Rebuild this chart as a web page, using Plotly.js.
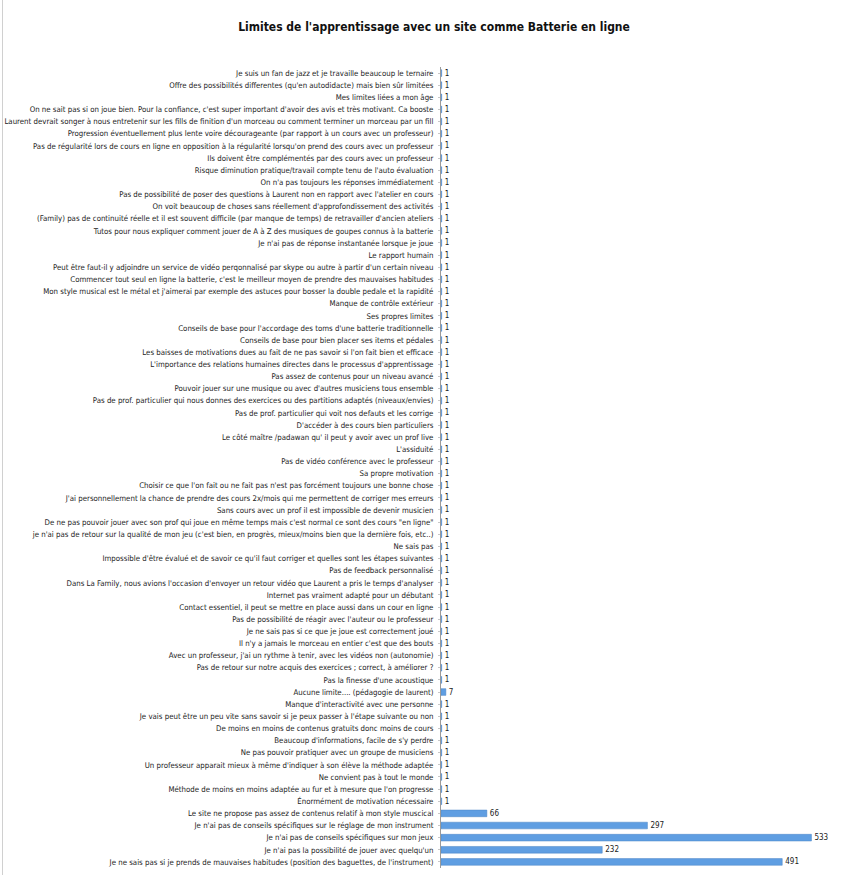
<!DOCTYPE html>
<html>
<head>
<meta charset="utf-8">
<script src="https://cdn.plot.ly/plotly-3.0.1.min.js"></script>
<style>
html,body{margin:0;padding:0;background:#fff;}
#wrap{position:relative;width:868px;height:875px;}
#chart{width:868px;height:875px;}
#frame{position:absolute;left:2px;top:0;width:1px;height:875px;background:#d0d0d0;pointer-events:none;}
</style>
</head>
<body>
<div id="wrap"><div id="chart"></div><div id="frame"></div></div>
<script>
const categories = [
"Je suis un fan de jazz et je travaille beaucoup le ternaire",
"Offre des possibilités differentes (qu'en autodidacte) mais bien sûr limitées",
"Mes limites liées a mon âge",
"On ne sait pas si on joue bien. Pour la confiance, c'est super important d'avoir des avis et très motivant. Ca booste",
"Laurent devrait songer à nous entretenir sur les fills de finition d'un morceau ou comment terminer un morceau par un fill",
"Progression éventuellement plus lente voire décourageante (par rapport à un cours avec un professeur)",
"Pas de régularité lors de cours en ligne en opposition à la régularité lorsqu'on prend des cours avec un professeur",
"Ils doivent être complémentés par des cours avec un professeur",
"Risque diminution pratique/travail compte tenu de l'auto évaluation",
"On n'a pas toujours les réponses immédiatement",
"Pas de possibilité de poser des questions à Laurent non en rapport avec l'atelier en cours",
"On voit beaucoup de choses sans réellement d'approfondissement des activités",
"(Family) pas de continuité réelle et il est souvent difficile (par manque de temps) de retravailler d'ancien ateliers",
"Tutos pour nous expliquer comment jouer de A à Z des musiques de goupes connus à la batterie",
"Je n'ai pas de réponse instantanée lorsque je joue",
"Le rapport humain",
"Peut être faut-il y adjoindre un service de vidéo perqonnalisé par skype ou autre à partir d'un certain niveau",
"Commencer tout seul en ligne la batterie, c'est le meilleur moyen de prendre des mauvaises habitudes",
"Mon style musical est le métal et j'aimerai par exemple des astuces pour bosser la double pedale et la rapidité",
"Manque de contrôle extérieur",
"Ses propres limites",
"Conseils de base pour l'accordage des toms d'une batterie traditionnelle",
"Conseils de base pour bien placer ses items et pédales",
"Les baisses de motivations dues au fait de ne pas savoir si l'on fait bien et efficace",
"L'importance des relations humaines directes dans le processus d'apprentissage",
"Pas assez de contenus pour un niveau avancé",
"Pouvoir jouer sur une musique ou avec d'autres musiciens tous ensemble",
"Pas de prof. particulier qui nous donnes des exercices ou des partitions adaptés (niveaux/envies)",
"Pas de prof. particulier qui voit nos defauts et les corrige",
"D'accéder à des cours bien particuliers",
"Le côté maître /padawan qu' il peut y avoir avec un prof live",
"L'assiduité",
"Pas de vidéo conférence avec le professeur",
"Sa propre motivation",
"Choisir ce que l'on fait ou ne fait pas n'est pas forcément toujours une bonne chose",
"J'ai personnellement la chance de prendre des cours 2x/mois qui me permettent de corriger mes erreurs",
"Sans cours avec un prof il est impossible de devenir musicien",
"De ne pas pouvoir jouer avec son prof qui joue en même temps mais c'est normal ce sont des cours \"en ligne\"",
"je n'ai pas de retour sur la qualité de mon jeu (c'est bien, en progrès, mieux/moins bien que la dernière fois, etc..)",
"Ne sais pas",
"Impossible d'être évalué et de savoir ce qu'il faut corriger et quelles sont les étapes suivantes",
"Pas de feedback personnalisé",
"Dans La Family, nous avions l'occasion d'envoyer un retour vidéo que Laurent a pris le temps d'analyser",
"Internet pas vraiment adapté pour un débutant",
"Contact essentiel, il peut se mettre en place aussi dans un cour en ligne",
"Pas de possibilité de réagir avec l'auteur ou le professeur",
"Je ne sais pas si ce que je joue est correctement joué",
"Il n'y a jamais le morceau en entier c'est que des bouts",
"Avec un professeur, j'ai un rythme à tenir, avec les vidéos non (autonomie)",
"Pas de retour sur notre acquis des exercices ; correct, à améliorer ?",
"Pas la finesse d'une acoustique",
"Aucune limite.... (pédagogie de laurent)",
"Manque d'interactivité avec une personne",
"Je vais peut être un peu vite sans savoir si je peux passer à l'étape suivante ou non",
"De moins en moins de contenus gratuits donc moins de cours",
"Beaucoup d'informations, facile de s'y perdre",
"Ne pas pouvoir pratiquer avec un groupe de musiciens",
"Un professeur apparait mieux à même d'indiquer à son élève la méthode adaptée",
"Ne convient pas à tout le monde",
"Méthode de moins en moins adaptée au fur et à mesure que l'on progresse",
"Énormément de motivation nécessaire",
"Le site ne propose pas assez de contenus relatif à mon style muscical",
"Je n'ai pas de conseils spécifiques sur le réglage de mon instrument",
"Je n'ai pas de conseils spécifiques sur mon jeux",
"Je n'ai pas la possibilité de jouer avec quelqu'un",
"Je ne sais pas si je prends de mauvaises habitudes (position des baguettes, de l'instrument)"
];
const values = [
1,1,1,1,1,1,1,1,1,1,
1,1,1,1,1,1,1,1,1,1,
1,1,1,1,1,1,1,1,1,1,
1,1,1,1,1,1,1,1,1,1,
1,1,1,1,1,1,1,1,1,1,
1,7,1,1,1,1,1,1,1,1,
1,66,297,533,232,491
];
const titleText = "Limites de l'apprentissage avec un site comme Batterie en ligne";

const FONT = "DejaVu Sans Condensed, sans-serif";

const trace = {
  type: 'bar',
  orientation: 'h',
  y: categories,
  x: values,
  width: 0.55,
  marker: {color: '#5f9ee2', line: {color: '#4a84c4', width: 0.5}},
  text: values.map(String),
  textposition: 'outside',
  constraintext: 'none',
  cliponaxis: false,
  textfont: {family: FONT, size: 8, color: '#222'},
  hoverinfo: 'x+y'
};

const layout = {
  width: 868,
  height: 875,
  margin: {l: 441, r: 10, t: 67, b: 7, pad: 0},
  paper_bgcolor: '#fff',
  plot_bgcolor: '#fff',
  showlegend: false,
  title: {
    text: '<b>' + titleText + '</b>',
    font: {family: FONT, size: 12, color: '#111'},
    x: 0.5, xref: 'container', xanchor: 'center',
    y: 1 - 27 / 875, yref: 'container', yanchor: 'middle'
  },
  xaxis: {
    range: [0, 600],
    showgrid: false, zeroline: false, showticklabels: false,
    ticks: '', showline: false, fixedrange: true
  },
  yaxis: {
    type: 'category',
    autorange: 'reversed',
    showgrid: false, zeroline: false,
    showline: true, linecolor: '#9a9a9a', linewidth: 1,
    ticks: 'outside', ticklen: 2, tickcolor: '#c8c8c8',
    ticklabelstandoff: 3,
    tickfont: {family: FONT, size: 7.8, color: '#222'},
    automargin: false, fixedrange: true
  }
};

Plotly.newPlot('chart', [trace], layout, {displayModeBar: false, staticPlot: true});
</script>
</body>
</html>
